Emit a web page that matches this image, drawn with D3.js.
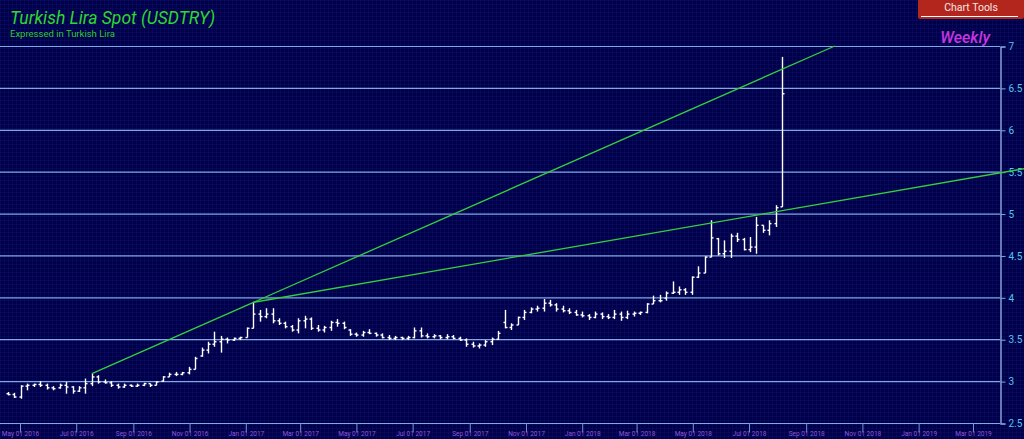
<!DOCTYPE html>
<html>
<head>
<meta charset="UTF-8">
<title>Turkish Lira Spot (USDTRY)</title>
<script src="https://cdn.jsdelivr.net/npm/d3@7"></script>
<style>
  html, body { margin: 0; padding: 0; background: #00004a; overflow: hidden; }
  text { font-family: Roboto, "Open Sans", sans-serif; }
</style>
</head>
<body>
<svg id="chart" width="1024" height="439"></svg>
<script>
// weekly bars (week starting Monday)
var weeks = [
  "2016-04-18","2016-04-25","2016-05-02","2016-05-09","2016-05-16","2016-05-23","2016-05-30","2016-06-06",
  "2016-06-13","2016-06-20","2016-06-27","2016-07-04","2016-07-11","2016-07-18","2016-07-25","2016-08-01",
  "2016-08-08","2016-08-15","2016-08-22","2016-08-29","2016-09-05","2016-09-12","2016-09-19","2016-09-26",
  "2016-10-03","2016-10-10","2016-10-17","2016-10-24","2016-10-31","2016-11-07","2016-11-14","2016-11-21",
  "2016-11-28","2016-12-05","2016-12-12","2016-12-19","2016-12-26",
  "2017-01-02","2017-01-09","2017-01-16","2017-01-23","2017-01-30","2017-02-06","2017-02-13","2017-02-20",
  "2017-02-27","2017-03-06","2017-03-13","2017-03-20","2017-03-27","2017-04-03","2017-04-10","2017-04-17",
  "2017-04-24","2017-05-01","2017-05-08","2017-05-15","2017-05-22","2017-05-29","2017-06-05","2017-06-12",
  "2017-06-19","2017-06-26","2017-07-03","2017-07-10","2017-07-17","2017-07-24","2017-07-31","2017-08-07",
  "2017-08-14","2017-08-21","2017-08-28","2017-09-04","2017-09-11","2017-09-18","2017-09-25","2017-10-02",
  "2017-10-09","2017-10-16","2017-10-23","2017-10-30","2017-11-06","2017-11-13","2017-11-20","2017-11-27",
  "2017-12-04","2017-12-11","2017-12-18","2017-12-25",
  "2018-01-01","2018-01-08","2018-01-15","2018-01-22","2018-01-29","2018-02-05","2018-02-12","2018-02-19",
  "2018-02-26","2018-03-05","2018-03-12","2018-03-19","2018-03-26","2018-04-02","2018-04-09","2018-04-16",
  "2018-04-23","2018-04-30","2018-05-07","2018-05-14","2018-05-21","2018-05-28","2018-06-04","2018-06-11",
  "2018-06-18","2018-06-25","2018-07-02","2018-07-09","2018-07-16","2018-07-23","2018-07-30","2018-08-06"
];
var open = [
  2.85,2.84,2.81,2.94,2.95,2.96,2.95,2.92, 2.92,2.95,2.93,2.88,2.92,2.97,3.05,2.99,
  2.98,2.95,2.93,2.95,2.94,2.95,2.97,2.95, 3.00,3.05,3.08,3.08,3.10,3.14,3.30,3.37,
  3.44,3.47,3.50,3.49,3.51,
  3.52,3.63,3.80,3.77,3.80,3.72,3.69,3.65, 3.61,3.72,3.74,3.63,3.61,3.64,3.70,3.69,
  3.61,3.56,3.55,3.58,3.57,3.55,3.52,3.51, 3.52,3.51,3.52,3.60,3.54,3.53,3.54,3.52,
  3.53,3.51,3.49,3.44,3.42,3.43,3.47,3.50, 3.70,3.64,3.67,3.76,3.82,3.86,3.87,3.93,
  3.91,3.86,3.84,3.82,
  3.79,3.78,3.76,3.80,3.77,3.76,3.80,3.76, 3.80,3.81,3.82,3.92,3.96,3.99,4.05,4.06,
  4.09,4.06,4.24,4.29,4.48,4.70,4.52,4.55, 4.73,4.69,4.57,4.60,4.86,4.80,4.88,5.08
];
var high = [
  2.87,2.86,2.95,2.97,2.97,3.00,2.97,2.94, 2.97,2.99,2.94,2.94,3.03,3.09,3.07,3.02,
  3.00,2.97,2.97,2.96,2.97,2.98,2.97,3.00, 3.06,3.10,3.11,3.11,3.17,3.29,3.40,3.47,
  3.59,3.54,3.52,3.52,3.53,
  3.64,3.94,3.85,3.87,3.87,3.75,3.71,3.67, 3.75,3.78,3.76,3.67,3.66,3.72,3.74,3.71,
  3.62,3.58,3.60,3.62,3.58,3.57,3.55,3.54, 3.53,3.54,3.64,3.64,3.57,3.56,3.55,3.56,
  3.55,3.53,3.51,3.47,3.45,3.49,3.52,3.60, 3.85,3.69,3.77,3.85,3.88,3.90,3.98,3.97,
  3.93,3.90,3.87,3.85,
  3.83,3.80,3.83,3.82,3.80,3.85,3.83,3.84, 3.83,3.83,3.93,4.02,4.03,4.07,4.19,4.13,
  4.11,4.25,4.37,4.49,4.92,4.71,4.68,4.76, 4.77,4.71,4.72,4.96,4.86,4.92,5.10,6.87
];
var low = [
  2.83,2.80,2.79,2.89,2.93,2.93,2.90,2.89, 2.91,2.85,2.85,2.87,2.85,2.94,2.97,2.97,
  2.93,2.91,2.92,2.93,2.93,2.94,2.93,2.95, 2.99,3.05,3.06,3.07,3.08,3.14,3.29,3.33,
  3.41,3.34,3.45,3.48,3.49,
  3.52,3.63,3.71,3.75,3.69,3.67,3.63,3.59, 3.57,3.63,3.61,3.59,3.58,3.60,3.65,3.62,
  3.54,3.53,3.53,3.56,3.53,3.51,3.49,3.49, 3.49,3.49,3.51,3.52,3.51,3.51,3.50,3.50,
  3.50,3.48,3.41,3.40,3.39,3.41,3.43,3.49, 3.63,3.61,3.67,3.73,3.81,3.83,3.83,3.89,
  3.83,3.82,3.80,3.78,
  3.76,3.73,3.75,3.74,3.74,3.74,3.72,3.74, 3.77,3.79,3.81,3.92,3.94,3.96,4.04,4.03,
  4.03,4.03,4.23,4.29,4.48,4.50,4.47,4.47, 4.66,4.56,4.54,4.52,4.77,4.74,4.84,5.08
];
var close = [
  2.84,2.81,2.94,2.95,2.96,2.95,2.92,2.91, 2.95,2.93,2.88,2.92,2.97,3.05,2.99,2.98,
  2.95,2.93,2.95,2.94,2.95,2.97,2.95,2.99, 3.05,3.08,3.08,3.10,3.14,3.27,3.37,3.44,
  3.47,3.50,3.49,3.51,3.52,
  3.63,3.80,3.77,3.80,3.72,3.69,3.65,3.61, 3.72,3.74,3.63,3.61,3.64,3.70,3.69,3.64,
  3.56,3.55,3.58,3.57,3.55,3.52,3.51,3.52, 3.51,3.52,3.60,3.54,3.53,3.54,3.52,3.53,
  3.51,3.49,3.44,3.42,3.43,3.47,3.50,3.57, 3.64,3.67,3.76,3.82,3.86,3.87,3.93,3.91,
  3.86,3.84,3.82,3.79,
  3.78,3.76,3.80,3.77,3.76,3.80,3.76,3.80, 3.81,3.82,3.92,3.96,3.96,4.05,4.06,4.09,
  4.06,4.24,4.29,4.48,4.71,4.52,4.55,4.73, 4.69,4.57,4.60,4.86,4.80,4.88,5.07,6.43
];

// hand drawn trend lines: [start, end]
var trendDates = [["2016-07-18", "2018-10-02"], ["2017-01-09", "2019-04-28"]];
var trendPrices = [[3.09, 7.0], [3.94, 5.54]];

var priceTicks = [2.5, 3, 3.5, 4, 4.5, 5, 5.5, 6, 6.5, 7];
var monthTicks = ["2016-05-01","2016-07-01","2016-09-01","2016-11-01","2017-01-01","2017-03-01",
                  "2017-05-01","2017-07-01","2017-09-01","2017-11-01","2018-01-01","2018-03-01",
                  "2018-05-01","2018-07-01","2018-09-01","2018-11-01","2019-01-01","2019-03-01"];

var parse = d3.utcParse("%Y-%m-%d");
var W = 1024, H = 439;
var plotLeft = 0, plotRight = 1000, plotTop = 46, plotBottom = 423;

var svg = d3.select("#chart");

// background with fine grid
var defs = svg.append("defs");
var pat = defs.append("pattern").attr("id", "bggrid")
    .attr("width", 4).attr("height", 4).attr("patternUnits", "userSpaceOnUse");
pat.append("rect").attr("width", 4).attr("height", 4).attr("fill", "#00004a");
pat.append("path").attr("d", "M4 0 L0 0 L0 4").attr("fill", "none")
    .attr("stroke", "#0e0e66").attr("stroke-width", 1);
svg.append("rect").attr("width", W).attr("height", H).attr("fill", "url(#bggrid)");

var x = d3.scaleUtc()
    .domain([parse("2016-05-01"), parse("2019-03-01")])
    .range([20, 973]);
var y = d3.scaleLinear().domain([2.5, 7]).range([plotBottom, plotTop]);

// horizontal grid lines
svg.append("g").selectAll("line").data(priceTicks).enter().append("line")
    .attr("x1", plotLeft).attr("x2", plotRight)
    .attr("y1", function (d) { return y(d) + 0.5; })
    .attr("y2", function (d) { return y(d) + 0.5; })
    .attr("stroke", "#7da9e4").attr("stroke-width", 1.2);

// right price axis
var yAxis = d3.axisRight(y).tickValues(priceTicks).tickSize(5).tickPadding(3)
    .tickFormat(function (d) { return d3.format("")(d); });
var gy = svg.append("g").attr("transform", "translate(" + (plotRight + 0.5) + ",0.5)").call(yAxis);
gy.select(".domain").attr("stroke", "#a6c8f2").attr("stroke-width", 1.2);
gy.selectAll(".tick line").attr("stroke", "#7da9e4");
gy.selectAll(".tick text").attr("fill", "#55c4ea").style("font-size", "10px")
    .style("font-family", "Roboto, sans-serif");

// bottom date axis
var xAxis = d3.axisBottom(x).tickValues(monthTicks.map(parse)).tickSize(9).tickPadding(-1)
    .tickFormat(d3.utcFormat("%b %d %Y"));
var gx = svg.append("g").attr("transform", "translate(0," + (plotBottom + 0.5) + ")").call(xAxis);
gx.select(".domain").remove();
gx.selectAll(".tick line").attr("stroke", "#6f96d6").attr("stroke-width", 1);
gx.selectAll(".tick text").attr("fill", "#8c5ad8").style("font-size", "6.5px")
    .style("font-family", "Roboto, sans-serif");

// OHLC bars
var bars = svg.append("g").attr("stroke", "#ffffff").attr("stroke-width", 1.4);
weeks.forEach(function (w, i) {
  var cx = Math.round(x(parse(w))) + 0.5;
  bars.append("line").attr("x1", cx).attr("x2", cx)
      .attr("y1", y(high[i])).attr("y2", y(low[i]));
  bars.append("line").attr("x1", cx - 2).attr("x2", cx)
      .attr("y1", y(open[i])).attr("y2", y(open[i]));
  bars.append("line").attr("x1", cx).attr("x2", cx + 2)
      .attr("y1", y(close[i])).attr("y2", y(close[i]));
});

// trend lines
trendDates.forEach(function (pair, i) {
  svg.append("line")
      .attr("x1", x(parse(pair[0]))).attr("y1", y(trendPrices[i][0]))
      .attr("x2", x(parse(pair[1]))).attr("y2", y(trendPrices[i][1]))
      .attr("stroke", "#34cf3c").attr("stroke-width", 1.3);
});

// titles
svg.append("text").text("Turkish Lira Spot (USDTRY)")
    .attr("x", 10).attr("y", 24)
    .attr("fill", "#2fd62f").style("font-style", "italic").style("font-size", "17.5px");
svg.append("text").text("Expressed in Turkish Lira")
    .attr("x", 10).attr("y", 37)
    .attr("fill", "#2fc82f").style("font-size", "9.5px");
svg.append("text").text("Weekly")
    .attr("x", 990).attr("y", 43).attr("text-anchor", "end")
    .attr("fill", "#c935e0").style("font-style", "italic").style("font-weight", "500")
    .style("font-size", "16px");

// Chart Tools button
var btn = svg.append("g");
btn.append("rect").attr("x", 918).attr("y", -4).attr("width", 106).attr("height", 23)
    .attr("rx", 2).attr("fill", "#b3261e");
btn.append("line").attr("x1", 921).attr("x2", 1018).attr("y1", 16.5).attr("y2", 16.5)
    .attr("stroke", "#ffffff").attr("stroke-width", 1.2);
btn.append("text").text("Chart Tools").attr("x", 971).attr("y", 11)
    .attr("text-anchor", "middle").attr("fill", "#f4e6e4").style("font-size", "10.5px");
</script>
</body>
</html>
